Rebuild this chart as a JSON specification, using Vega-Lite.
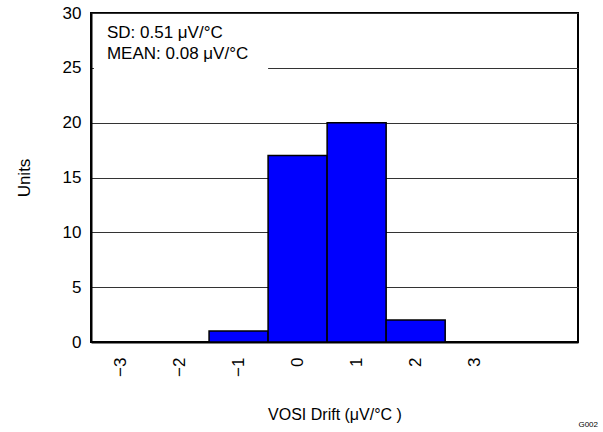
{
  "$schema": "https://vega.github.io/schema/vega-lite/v6.json",
  "width": 487,
  "height": 329,
  "autosize": {"type": "none"},
  "padding": {"left": 91, "top": 13, "right": 25, "bottom": 90},
  "background": "white",
  "config": {
    "font": "Liberation Sans",
    "view": {"stroke": "black", "strokeWidth": 2},
    "axis": {"labelFont": "Liberation Sans", "titleFont": "Liberation Sans", "labelColor": "black", "titleColor": "black", "titleFontWeight": "normal"}
  },
  "title": {"text": "G002", "orient": "bottom", "anchor": "end", "fontSize": 8, "fontWeight": "normal", "font": "Liberation Sans", "color": "black", "offset": -1, "dx": 20},
  "layer": [
    {
      "data": {"values": [{"a": 1}]},
      "mark": {"type": "rect", "fill": "white"},
      "encoding": {
        "x": {"datum": -3.45, "type": "quantitative", "scale": {"domain": [-3.5, 4.75], "nice": false, "zero": false}},
        "x2": {"datum": -0.5},
        "y": {"datum": 23.8, "type": "quantitative", "scale": {"domain": [0, 30], "nice": false}},
        "y2": {"datum": 29.9}
      }
    },
    {
      "data": {"values": [
        {"drift": -3, "lo": -3.5, "hi": -2.5, "units": 0},
        {"drift": -2, "lo": -2.5, "hi": -1.5, "units": 0},
        {"drift": -1, "lo": -1.5, "hi": -0.5, "units": 1},
        {"drift": 0, "lo": -0.5, "hi": 0.5, "units": 17},
        {"drift": 1, "lo": 0.5, "hi": 1.5, "units": 20},
        {"drift": 2, "lo": 1.5, "hi": 2.5, "units": 2},
        {"drift": 3, "lo": 2.5, "hi": 3.5, "units": 0}
      ]},
      "mark": {"type": "rect", "fill": "#0000FF", "stroke": "black", "strokeWidth": 1.5},
      "encoding": {
        "x": {"field": "lo", "type": "quantitative",
          "scale": {"domain": [-3.5, 4.75], "nice": false, "zero": false},
          "axis": {"values": [-3, -2, -1, 0, 1, 2, 3], "format": "d", "labelAngle": -90, "labelFontSize": 17, "labelPadding": 15, "ticks": false, "domain": true, "domainColor": "black", "domainWidth": 2, "grid": false,
            "title": "VOSI Drift (μV/°C )", "titleFontSize": 16, "titlePadding": 30}},
        "x2": {"field": "hi"},
        "y": {"field": "units", "type": "quantitative",
          "scale": {"domain": [0, 30], "nice": false},
          "axis": {"values": [0, 5, 10, 15, 20, 25, 30], "labelFontSize": 17, "labelPadding": 10, "ticks": false, "domain": true, "domainColor": "black", "domainWidth": 2, "grid": true, "gridColor": "#333333", "gridWidth": 1,
            "title": "Units", "titleFontSize": 17, "titlePadding": 29}},
        "y2": {"datum": 0}
      }
    },
    {
      "data": {"values": [{"label": ["SD: 0.51 μV/°C", "MEAN: 0.08 μV/°C"]}]},
      "mark": {"type": "text", "align": "left", "baseline": "top", "fontSize": 17, "lineHeight": 21, "color": "black"},
      "encoding": {
        "x": {"datum": -3.23, "type": "quantitative"},
        "y": {"datum": 28.95, "type": "quantitative"},
        "text": {"field": "label"}
      }
    }
  ]
}
